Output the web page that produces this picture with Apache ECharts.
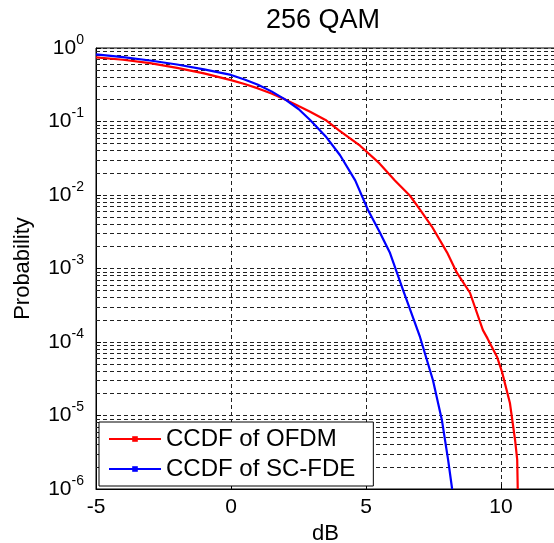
<!DOCTYPE html>
<html>
<head>
<meta charset="utf-8">
<script src="https://cdn.jsdelivr.net/npm/echarts@6/dist/echarts.min.js"></script>
<style>
html,body{margin:0;padding:0;background:#fff;}
#chart{width:554px;height:543px;}
</style>
</head>
<body>
<div id="chart"></div>
<script>
// ---- data ----
const xOfdm = [-5,-4,-3,-2,-1,0,0.5,1,1.5,2.0,2.5,2.93,3.5,4.0,4.78,5.5,6.07,6.63,7.0,7.44,8.0,8.37,8.85,9.33,9.5,9.85,10.04,10.33,10.52,10.6,10.62];
const pOfdm = [0.746,0.692,0.624,0.537,0.452,0.366,0.324,0.282,0.240,0.200,0.162,0.136,0.105,0.0759,0.0468,0.0269,0.0158,0.00977,0.00631,0.00372,0.00166,0.000871,0.000468,0.000145,0.000112,6.31e-5,3.89e-5,1.48e-5,4.68e-6,2.51e-6,1e-6];
const xScfde = [-5,-4,-3,-2,-1,0,0.5,1,1.5,2.0,2.5,2.93,3.5,4.04,4.6,5.07,5.5,5.89,6.37,7.0,7.48,7.81,8.04,8.19];
const pScfde = [0.820,0.750,0.676,0.596,0.513,0.430,0.372,0.316,0.257,0.200,0.148,0.105,0.0631,0.0347,0.0158,0.00631,0.00316,0.00162,0.000513,0.000117,3.02e-5,8.71e-6,2.51e-6,1e-6];
const seriesNames = ['CCDF of OFDM','CCDF of SC-FDE'];
const xTicks = [-5,0,5,10];
const xRange = [-5, 12];
const decadeExps = [-6,-5,-4,-3,-2,-1];
const minorMults = [2,3,4,5,6,7,8,9];

const toPairs = (xs, ys) => xs.map((x, i) => [x, ys[i]]);
const minorLines = [];
decadeExps.forEach(e => minorMults.forEach(m => {
  const v = m * Math.pow(10, e);
  minorLines.push([{coord: [xRange[0], v]}, {coord: [xRange[1], v]}]);
}));

const gridStyle = {color: '#222', width: 1, type: [4, 3]};
const chart = echarts.init(document.getElementById('chart'), null, {renderer: 'canvas'});
chart.setOption({
  animation: false,
  backgroundColor: '#fff',
  textStyle: {fontFamily: 'Liberation Sans, Arial, sans-serif', color: '#000'},
  title: {
    text: '256 QAM', left: 266, top: 7, padding: 0,
    textStyle: {fontSize: 27, fontWeight: 'normal', color: '#000', fontFamily: 'Liberation Sans, Arial, sans-serif'}
  },
  grid: {
    left: 96, top: 48, width: 459, height: 441,
    containLabel: false, outerBoundsMode: 'none',
    show: true, borderColor: '#000', borderWidth: 1, backgroundColor: 'transparent'
  },
  legend: {
    data: seriesNames,
    orient: 'vertical', left: 99, top: 422,
    padding: [5, 18, 5, 9],
    itemWidth: 52, itemHeight: 7, itemGap: 6,
    backgroundColor: '#fff', borderColor: '#000', borderWidth: 1, borderRadius: 0,
    textStyle: {fontSize: 24, lineHeight: 24, color: '#000', fontFamily: 'Liberation Sans, Arial, sans-serif'},
    z: 10
  },
  xAxis: {
    type: 'value', min: xRange[0], max: xRange[1], interval: 5,
    name: 'dB', nameLocation: 'middle', nameGap: 33,
    nameTextStyle: {fontSize: 22, color: '#000'},
    axisLine: {show: true, onZero: false, lineStyle: {color: '#000', width: 1}},
    axisTick: {show: true, inside: true, length: 5, lineStyle: {color: '#000'}},
    axisLabel: {
      fontSize: 21, color: '#000', margin: 8, showMaxLabel: false,
      formatter: v => (xTicks.indexOf(v) >= 0 ? String(v) : '')
    },
    splitLine: {show: true, lineStyle: gridStyle}
  },
  yAxis: {
    type: 'log', logBase: 10, min: 1e-6, max: 1,
    name: 'Probability', nameLocation: 'middle', nameRotate: 90, nameGap: 62,
    nameTextStyle: {fontSize: 22, color: '#000'},
    axisLine: {show: true, onZero: false, lineStyle: {color: '#000', width: 1}},
    axisTick: {show: true, inside: true, length: 5, lineStyle: {color: '#000'}},
    axisLabel: {
      margin: 12, color: '#000',
      formatter: v => '{b|10}{s|' + Math.round(Math.log10(v)) + '}',
      rich: {
        b: {fontSize: 21, lineHeight: 22, verticalAlign: 'middle', color: '#000'},
        s: {fontSize: 14, lineHeight: 14, padding: [0, 0, 16, 0], verticalAlign: 'middle', color: '#000'}
      }
    },
    splitLine: {show: true, lineStyle: gridStyle}
  },
  series: [
    {
      name: seriesNames[0], type: 'line', data: toPairs(xOfdm, pOfdm),
      showSymbol: false, symbol: 'rect', symbolSize: 5,
      lineStyle: {color: '#ff0000', width: 2.2}, itemStyle: {color: '#ff0000'}, z: 3
    },
    {
      name: seriesNames[1], type: 'line', data: toPairs(xScfde, pScfde),
      showSymbol: false, symbol: 'rect', symbolSize: 5,
      lineStyle: {color: '#0000ff', width: 2.2}, itemStyle: {color: '#0000ff'}, z: 3
    },
    {
      name: 'minorGrid', type: 'line', data: [], silent: true, z: 1,
      markLine: {
        silent: true, symbol: 'none', z: 1, animation: false, precision: 12,
        label: {show: false}, lineStyle: gridStyle, emphasis: {disabled: true},
        data: minorLines
      }
    }
  ]
});
</script>
</body>
</html>
